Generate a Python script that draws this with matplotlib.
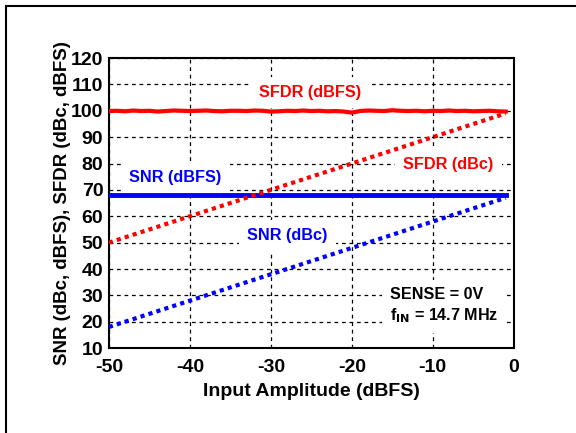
import matplotlib.pyplot as plt
from matplotlib.patches import Rectangle

plt.rcParams['font.family'] = ['Liberation Sans', 'DejaVu Sans']
plt.rcParams['font.weight'] = 'bold'
plt.rcParams['axes.unicode_minus'] = False

# input amplitude (dBFS) for the flat curves
amp = [-50, -49, -48, -47, -46, -45, -44, -43, -42, -41,
       -40, -39, -38, -37, -36, -35, -34, -33, -32, -31,
       -30, -29, -28, -27, -26, -25, -24, -23, -22, -21,
       -20, -19, -18, -17, -16, -15, -14, -13, -12, -11,
       -10, -9, -8, -7, -6, -5, -4, -3, -2, -1]
sfdr_dbfs = [99.9, 100.0, 99.8, 100.1, 99.9, 100.0, 99.7, 99.9, 100.1, 100.0,
             99.9, 100.0, 100.1, 99.9, 99.8, 100.0, 100.0, 99.9, 100.1, 100.0,
             99.7, 99.8, 100.0, 99.9, 100.1, 99.9, 100.0, 99.8, 99.9, 99.7,
             99.3, 99.9, 100.1, 100.0, 99.9, 100.2, 100.0, 99.9, 100.0, 99.8,
             100.0, 99.9, 100.1, 99.9, 100.0, 99.8, 99.9, 100.0, 99.8, 99.7]
snr_dbfs = [68.0, 68.0, 68.0, 68.0, 68.0, 68.0, 68.0, 68.0, 68.0, 68.0,
            68.0, 68.0, 68.0, 68.0, 68.0, 68.0, 68.0, 68.0, 68.0, 68.0,
            68.0, 68.0, 68.0, 68.0, 68.0, 68.0, 68.0, 68.0, 68.0, 68.0,
            68.0, 68.0, 68.0, 68.0, 68.0, 68.0, 68.0, 68.0, 68.0, 68.0,
            68.0, 68.0, 68.0, 68.0, 68.0, 68.0, 68.0, 68.0, 68.0, 68.0]

# dBc curves
amp_c = [-50, -40, -30, -20, -10, -1]
sfdr_dbc = [50, 60, 70, 80, 90, 99]
snr_dbc = [18, 28, 38, 48, 58, 67]

xticks = [-50, -40, -30, -20, -10, 0]
yticks = [10, 20, 30, 40, 50, 60, 70, 80, 90, 100, 110, 120]

RED = '#ff0000'
BLUE = '#0000ff'

fig = plt.figure(figsize=(5.76, 4.33), dpi=100)
fig.patches.append(Rectangle((6 / 576, -0.05), 1.2, 0.986 + 0.05,
                             transform=fig.transFigure, fill=False,
                             edgecolor='black', linewidth=1.5))
ax = fig.add_axes([0.189, 0.196, 0.703, 0.670])

ax.plot(amp, sfdr_dbfs, color=RED, linewidth=3, zorder=3)
ax.plot(amp, snr_dbfs, color=BLUE, linewidth=3.5, zorder=3)
ax.plot(amp_c, sfdr_dbc, color=RED, linewidth=3, linestyle=(0, (1, 1)), zorder=3)
ax.plot(amp_c, snr_dbc, color=BLUE, linewidth=3, linestyle=(0, (1, 1)), zorder=3)

ax.set_xlim(-50, 0)
ax.set_ylim(10, 120)
ax.set_xticks(xticks)
ax.set_yticks(yticks)
ax.tick_params(labelsize=14, length=0)
ax.tick_params(axis='x', pad=8)
ax.tick_params(axis='y', pad=4)
for lbl in ax.get_xticklabels() + ax.get_yticklabels():
    lbl.set_fontweight('bold')
ax.grid(True, color='black', linestyle=(0, (3, 3)), linewidth=0.9)
for s in ax.spines.values():
    s.set_linewidth(1.5)

ax.set_xlabel('Input Amplitude (dBFS)', fontsize=14, fontweight='bold', labelpad=5)
ax.set_ylabel('SNR (dBc, dBFS), SFDR (dBc, dBFS)', fontsize=13.4, fontweight='bold', labelpad=0)

box = dict(facecolor='white', edgecolor='none', pad=6)
ax.text(-25.1, 107, 'SFDR (dBFS)', color=RED, fontsize=11.7, ha='center', va='center', bbox=box, zorder=2)
ax.text(-8.1, 79.7, 'SFDR (dBc)', color=RED, fontsize=11.7, ha='center', va='center', bbox=box, zorder=2)
ax.text(-41.8, 74.6, 'SNR (dBFS)', color=BLUE, fontsize=11.7, ha='center', va='center', bbox=box, zorder=2)
ax.text(-28.0, 52.6, 'SNR (dBc)', color=BLUE, fontsize=11.7, ha='center', va='center', bbox=box, zorder=2)
ax.text(-15.3, 26.0, 'SENSE = 0V\n' + r'f$_{\mathbf{IN}}$ = 14.7 MHz', color='black',
        fontsize=11.6, ha='left', va='center', linespacing=1.3, bbox=box, zorder=2)

fig.savefig('out.png', dpi=100)
